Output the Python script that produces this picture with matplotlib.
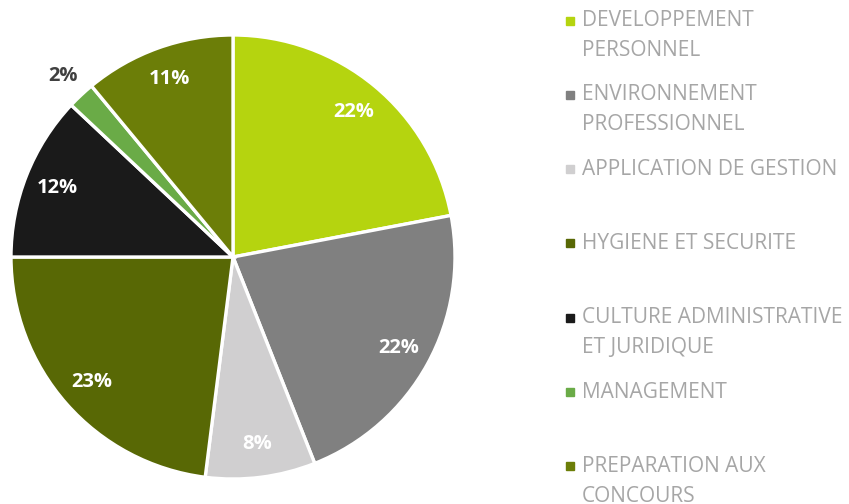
import matplotlib
matplotlib.use("Agg")
import matplotlib.pyplot as plt
from matplotlib.patches import Rectangle
import numpy as np

categories = ["DEVELOPPEMENT\nPERSONNEL", "ENVIRONNEMENT\nPROFESSIONNEL", "APPLICATION DE GESTION",
              "HYGIENE ET SECURITE", "CULTURE ADMINISTRATIVE\nET JURIDIQUE", "MANAGEMENT",
              "PREPARATION AUX\nCONCOURS"]
values = [22, 22, 8, 23, 12, 2, 11]
colors = ["#B5D40F", "#808080", "#D0CFD0", "#586805", "#1A1A1A", "#6AAB47", "#6C7E08"]

plt.rcParams['font.family'] = ['Open Sans', 'DejaVu Sans']

W, H = 849, 504
fig = plt.figure(figsize=(W / 100, H / 100), dpi=100)
cx, cy, r = 233, 257, 222
ax = fig.add_axes([(cx - r) / W, (H - cy - r) / H, 2 * r / W, 2 * r / H])

wedges, texts = ax.pie(values, colors=colors, startangle=90, counterclock=False, radius=1,
                       wedgeprops=dict(edgecolor='white', linewidth=2.4))
ax.set_xlim(-1, 1)
ax.set_ylim(-1, 1)
ax.set_aspect('equal')
ax.axis('off')
for w in wedges:
    w.set_clip_on(False)

for w, v in zip(wedges, values):
    ang = np.deg2rad((w.theta1 + w.theta2) / 2)
    if v < 5:
        rr, col = 1.12, '#404040'
    else:
        rr, col = 0.85, 'white'
    ax.text(rr * np.cos(ang), rr * np.sin(ang), f"{v}%", ha='center', va='center',
            color=col, fontsize=14.5, fontweight='bold', clip_on=False)

# legend
y0, step, lh = 20.5, 74.3, 30
for i, (lab, c) in enumerate(zip(categories, colors)):
    y = y0 + i * step
    fig.add_artist(Rectangle((566 / W, (H - y - 4) / H), 8 / W, 8 / H, color=c,
                             transform=fig.transFigure))
    for j, line in enumerate(lab.split("\n")):
        fig.text(582 / W, (H - (y + j * lh)) / H, line, ha='left', va='center',
                 color='#A6A6A6', fontsize=15)

fig.savefig("out.png", dpi=100)
